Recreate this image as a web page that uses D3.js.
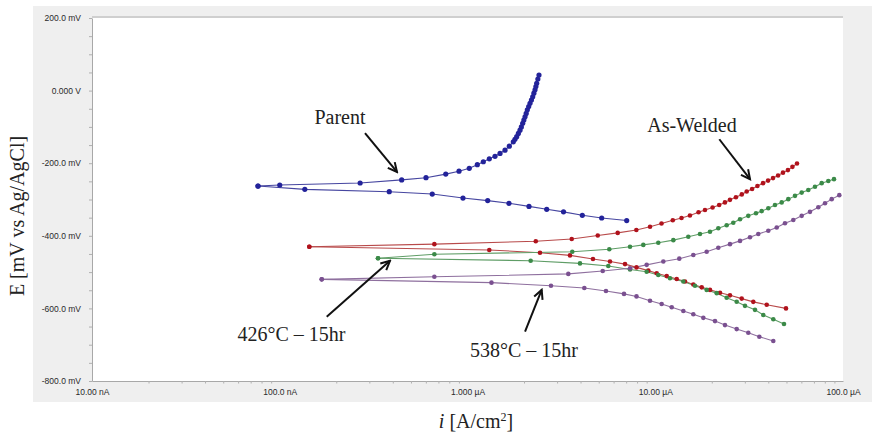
<!DOCTYPE html>
<html>
<head>
<meta charset="utf-8">
<script src="https://cdn.jsdelivr.net/npm/d3@7"></script>
<style>
  html, body { margin: 0; padding: 0; background: #fff; }
  svg { display: block; }
  .tick-label { font-family: "Liberation Sans", Arial, sans-serif; font-size: 8.5px; fill: #2a2a2a; }
  .note { font-family: "Liberation Serif", "Times New Roman", serif; font-size: 20px; fill: #222; }
  .axis-title { font-family: "Liberation Serif", "Times New Roman", serif; font-size: 20px; fill: #222; }
</style>
</head>
<body>
<div id="chart"></div>
<script>
// current in µA, potential in mV
const parentAnodic = [
  [0.0766, -263], [0.100, -260], [0.268, -254.5], [0.446, -246], [0.601, -240],
  [0.766, -230], [0.901, -222], [1.022, -214], [1.128, -204], [1.214, -196],
  [1.307, -188], [1.401, -181], [1.490, -173], [1.584, -164], [1.670, -153],
  [1.754, -141], [1.790, -134], [1.828, -127], [1.866, -118], [1.904, -109],
  [1.936, -100], [1.968, -90], [1.996, -81], [2.025, -72], [2.054, -63],
  [2.083, -53], [2.118, -44], [2.153, -35], [2.190, -26], [2.225, -17],
  [2.257, -7], [2.289, 2], [2.313, 11], [2.337, 20], [2.370, 32], [2.403, 43]
];
const parentCathodic = [
  [0.0766, -263], [0.136, -272], [0.383, -278.5], [0.649, -285], [0.946, -296],
  [1.281, -303], [1.663, -310.5], [2.126, -319], [2.642, -327], [3.246, -334],
  [4.088, -343.5], [5.184, -351], [7.046, -358]
];
const weldedAnodic = [
  [0.1437, -430], [0.666, -423], [2.31, -415], [3.59, -409], [4.94, -399],
  [6.31, -392], [7.93, -384], [9.38, -375], [10.8, -366], [12.4, -357],
  [13.8, -351], [15.3, -344], [17.0, -335], [18.4, -329], [20.2, -322],
  [21.9, -315], [23.5, -308], [25.0, -301], [26.9, -294], [28.9, -286],
  [30.7, -278], [32.8, -271], [35.0, -263], [37.5, -255], [39.9, -248],
  [42.4, -241], [45.1, -234], [47.9, -226], [50.9, -219], [53.8, -210], [56.9, -201]
];
const weldedCathodic = [
  [0.1437, -430], [1.306, -439], [2.433, -446.5], [3.515, -454], [4.660, -464],
  [5.741, -471], [6.901, -478], [7.946, -487], [9.184, -496], [10.18, -503],
  [11.51, -511], [13.01, -519], [14.40, -526], [15.95, -534], [17.68, -542],
  [19.57, -549], [22.13, -557], [25.01, -564], [28.87, -573], [33.28, -582],
  [39.23, -590], [49.70, -600]
];
const t426Anodic = [
  [0.3337, -462], [0.666, -451], [3.615, -444], [5.692, -437], [7.338, -430],
  [8.638, -425], [10.38, -419], [12.48, -412], [15.0, -402.5], [17.31, -395],
  [19.57, -389], [21.67, -379], [24.01, -371], [26.04, -364], [28.28, -354.5],
  [31.30, -345], [34.40, -338], [36.89, -332], [40.01, -324], [43.43, -315],
  [47.15, -308], [51.12, -299], [55.51, -290], [60.26, -281], [65.34, -274],
  [70.93, -265], [77.00, -255], [83.51, -249], [89.54, -244]
];
const t426Cathodic = [
  [0.3337, -462], [2.170, -468.6], [3.974, -476], [5.623, -483], [7.338, -493],
  [9.003, -499], [10.38, -508], [11.98, -517], [14.11, -526], [16.28, -537.5],
  [18.79, -549], [21.25, -558], [24.01, -570.5], [27.15, -581.5], [30.06, -593],
  [33.98, -604], [37.63, -618], [42.54, -630], [48.50, -643]
];
const t538Anodic = [
  [0.1673, -520], [0.666, -513], [3.443, -505], [5.250, -497], [7.338, -489.5],
  [9.003, -480], [11.04, -471], [13.43, -463], [15.95, -453], [18.79, -444],
  [21.67, -433], [25.01, -423], [28.28, -414], [31.96, -404], [35.38, -395],
  [40.01, -386], [44.36, -377], [49.09, -365.5], [54.36, -356.5], [60.26, -345],
  [66.72, -334], [73.87, -321.5], [80.20, -310.5], [87.06, -299], [95.56, -288]
];
const t538Cathodic = [
  [0.1673, -520], [1.342, -529], [2.784, -537.5], [4.190, -544], [5.465, -552],
  [6.817, -560], [7.946, -567], [9.376, -579], [10.82, -588], [12.24, -597],
  [14.11, -607], [15.95, -616], [18.03, -626], [20.81, -635], [23.52, -646],
  [27.15, -657], [31.30, -667], [35.84, -678], [42.54, -690]
];

const xTicks = [0.01, 0.1, 1, 10, 100];
const xTickLabels = ['10.00 nA', '100.0 nA', '1.000 µA', '10.00 µA', '100.0 µA'];
const yTicks = [200, 0, -200, -400, -600, -800];
const yTickLabels = ['200.0 mV', '0.000 V', '-200.0 mV', '-400.0 mV', '-600.0 mV', '-800.0 mV'];

const series = [
  { branches: [parentAnodic, parentCathodic], line: '#4646a0', dot: '#23239a', r: 2.6 },
  { branches: [weldedAnodic, weldedCathodic], line: '#b84a4a', dot: '#b0121c', r: 2.3 },
  { branches: [t426Anodic, t426Cathodic], line: '#5f9d66', dot: '#3b8a48', r: 2.3 },
  { branches: [t538Anodic, t538Cathodic], line: '#8e6f9e', dot: '#7a5090', r: 2.3 }
];

// text anchor and arrow from/to, in data units
const notes = [
  { text: 'Parent', at: [0.2094, -92], from: [0.2845, -117], to: [0.4212, -224] },
  { text: 'As-Welded', at: [15.69, -114], from: [21.94, -134], to: [31.97, -244] },
  { text: '426°C – 15hr', at: [0.1155, -690], from: [0.1779, -623], to: [0.3866, -469] },
  { text: '538°C – 15hr', at: [2.0, -734], from: [2.025, -664], to: [2.484, -549] }
];

const width = 872, height = 435;
const plot = { left: 92, right: 843, top: 18, bottom: 381 };

const svg = d3.select('#chart').append('svg')
  .attr('width', width)
  .attr('height', height);

const defs = svg.append('defs');
defs.append('marker')
  .attr('id', 'arrow')
  .attr('markerUnits', 'userSpaceOnUse')
  .attr('markerWidth', 12).attr('markerHeight', 12)
  .attr('refX', 10).attr('refY', 6)
  .attr('orient', 'auto')
  .append('path')
  .attr('d', 'M1,1.5 L10,6 L1,10.5')
  .attr('fill', 'none')
  .attr('stroke', '#111')
  .attr('stroke-width', 2);

// gray instrument panel + white plot area
svg.append('rect')
  .attr('x', 33).attr('y', 6)
  .attr('width', width - 33).attr('height', 396)
  .attr('fill', '#efefef');
svg.append('rect')
  .attr('x', plot.left).attr('y', plot.top)
  .attr('width', plot.right - plot.left).attr('height', plot.bottom - plot.top)
  .attr('fill', '#fff');
svg.append('line')
  .attr('x1', plot.left).attr('x2', plot.right)
  .attr('y1', plot.top - 1).attr('y2', plot.top - 1)
  .attr('stroke', '#cfcfcf').attr('stroke-width', 2);

const x = d3.scaleLog().domain([0.01, 100]).range([plot.left, plot.right]);
const y = d3.scaleLinear().domain([-800, 200]).range([plot.bottom, plot.top]);

// axes
const xMinor = [];
[0.01, 0.1, 1, 10].forEach(d => { for (let k = 2; k <= 9; k++) xMinor.push(d * k); });
const yMinor = d3.range(-800, 201, 50);

const xAxis = svg.append('g')
  .attr('transform', `translate(0,${plot.bottom})`)
  .call(d3.axisBottom(x).tickValues(xTicks).tickFormat((d, i) => xTickLabels[i]).tickSize(0).tickPadding(8));
xAxis.select('.domain').attr('stroke', '#a8a8a8');
xAxis.selectAll('text').attr('class', 'tick-label').attr('font-size', null).attr('font-family', null);

svg.append('g')
  .attr('transform', `translate(0,${plot.bottom})`)
  .call(d3.axisBottom(x).tickValues(xMinor).tickFormat('').tickSize(2.5))
  .call(g => g.select('.domain').remove())
  .selectAll('line').attr('stroke', '#b0b0b0');

const yAxis = svg.append('g')
  .attr('transform', `translate(${plot.left},0)`)
  .call(d3.axisLeft(y).tickValues(yTicks).tickFormat((d, i) => yTickLabels[i]).tickSize(0).tickPadding(11));
yAxis.select('.domain').attr('stroke', '#a8a8a8');
yAxis.selectAll('text').attr('class', 'tick-label').attr('font-size', null).attr('font-family', null);

svg.append('g')
  .attr('transform', `translate(${plot.left},0)`)
  .call(d3.axisLeft(y).tickValues(yMinor).tickFormat('').tickSize(3))
  .call(g => g.select('.domain').remove())
  .selectAll('line').attr('stroke', '#b0b0b0');

// curves
const line = d3.line().x(d => x(d[0])).y(d => y(d[1]));
const curves = svg.append('g');
series.forEach(s => {
  s.branches.forEach(b => {
    curves.append('path')
      .attr('d', line(b))
      .attr('fill', 'none')
      .attr('stroke', s.line)
      .attr('stroke-width', 1.1);
  });
});
series.forEach(s => {
  s.branches.forEach(b => {
    curves.selectAll(null)
      .data(b)
      .enter().append('circle')
      .attr('cx', d => x(d[0]))
      .attr('cy', d => y(d[1]))
      .attr('r', s.r)
      .attr('fill', s.dot);
  });
});

// annotations
notes.forEach(n => {
  svg.append('text')
    .attr('class', 'note')
    .attr('x', x(n.at[0])).attr('y', y(n.at[1]))
    .attr('text-anchor', 'middle')
    .text(n.text);
  svg.append('line')
    .attr('x1', x(n.from[0])).attr('y1', y(n.from[1]))
    .attr('x2', x(n.to[0])).attr('y2', y(n.to[1]))
    .attr('stroke', '#111')
    .attr('stroke-width', 2)
    .attr('marker-end', 'url(#arrow)');
});

// axis titles
svg.append('text')
  .attr('class', 'axis-title')
  .attr('transform', 'translate(24,216) rotate(-90)')
  .attr('text-anchor', 'middle')
  .text('E [mV vs Ag/AgCl]');

const xt = svg.append('text')
  .attr('class', 'axis-title')
  .attr('x', 476).attr('y', 428)
  .attr('text-anchor', 'middle');
xt.append('tspan').attr('font-style', 'italic').text('i');
xt.append('tspan').text(' [A/cm');
xt.append('tspan').attr('font-size', '12px').attr('dy', -7).text('2');
xt.append('tspan').attr('dy', 7).text(']');
</script>
</body>
</html>
